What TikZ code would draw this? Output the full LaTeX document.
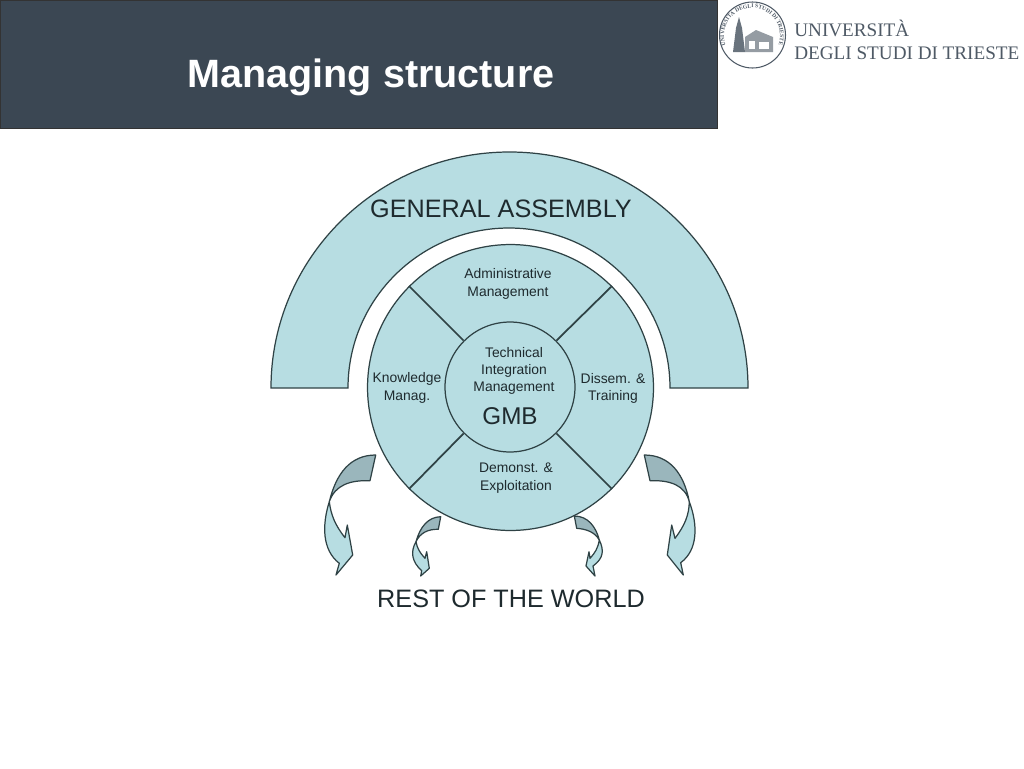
\documentclass[tikz,border=0pt]{standalone}
\usepackage{fontspec}
\usepackage{xcolor}
\usepackage{tikz}
\usetikzlibrary{decorations.text}
\setmainfont{Liberation Sans}
\newfontfamily\logofont{Liberation Serif}
\definecolor{headbg}{HTML}{3B4753}
\definecolor{paleblue}{HTML}{B7DDE2}
\definecolor{duskblue}{HTML}{9AB6BC}
\definecolor{inkline}{HTML}{2F4245}
\definecolor{inktext}{HTML}{1E2A2E}
\definecolor{logoink}{HTML}{4F5A66}
\newcommand{\fs}[2]{\fontsize{#1}{#2}\selectfont}
\tikzset{
  ring/.style={circle,draw=inkline,fill=paleblue,line width=0.7pt,inner sep=0pt},
  spoke/.style={draw=inkline,line width=1pt},
  upperarrow/.style={draw=inkline,fill=duskblue,line width=0.7pt,line join=round},
  lowerarrow/.style={draw=inkline,fill=paleblue,line width=0.7pt,line join=round},
  smalltext/.style={inner sep=0pt,align=center,text=inktext,font=\fs{7.9}{9.9}},
  bigtext/.style={inner sep=0pt,text=inktext,font=\fs{14.35}{16}},
  logotext/.style={inner sep=0pt,anchor=west,text=logoink,font=\logofont\fs{10.9}{12}},
}
\begin{document}
\begin{tikzpicture}[x=0.02cm,y=0.02cm]
\useasboundingbox (0,0) rectangle (1024,-768);
\fill [white] (0,0) rectangle (1024,-768);
% header
\draw [fill=headbg,draw=black!80,line width=0.5pt] (0,0) rectangle (717,-128);
\node (title) at (371,-77) [inner sep=0pt,text=white,font=\bfseries\fs{22.5}{24}] {Managing structure};
% logo
\node (seal) at (752.5,-35) [circle,draw=logoink,line width=0.6pt,minimum size=1.32cm,inner sep=0pt] {};
\fill [logoink!85] (733,-52) -- (736,-28) -- (739,-17) -- (742,-28) -- (745,-52) -- cycle;
\fill [logoink!60] (745,-52) -- (745,-37) -- (756,-30) -- (773,-37) -- (773,-52) -- cycle;
\fill [white] (749,-49) rectangle (755,-41);
\fill [white] (759,-49) rectangle (769,-42);
\path [decorate,decoration={text along path,text align=center,
  text={|\logofont\bfseries\fs{3.2}{4}\color{logoink}|UNIVERSITA DEGLI STUDI DI TRIESTE}}]
  (731.3,-54.5) arc (222:-42:28);
\node (uni) at (794,-28) [logotext] {UNIVERSITÀ};
\node (ts) [logotext] at (794,-53) {DEGLI STUDI DI TRIESTE};
% general assembly arch
\draw [draw=inkline,fill=paleblue,line width=0.7pt] (271,-388) arc [start angle=180,end angle=0,x radius=238.5,y radius=236] -- (670,-388)
  arc [start angle=0,end angle=180,x radius=161,y radius=160] -- cycle;
\node (assembly) at (501,-209) [bigtext] {GENERAL ASSEMBLY};
% management disc
\node (disc) at (510.5,-387.5) [ring,minimum size=5.72cm] {};
\node (core) at (510,-387) [ring,minimum size=2.6cm] {};
\foreach \a in {45,135,225,315}
  \draw [spoke] (disc.\a) -- (core.\a);
\node (admin) at (508,-284) [smalltext] {Administrative\\Management};
\node (know) at (407,-388) [smalltext] {Knowledge\\Manag.};
\node (tech) at (514,-371) [smalltext] {Technical\\Integration\\Management};
\node (gmb) at (510,-416.5) [inner sep=0pt,text=inktext,font=\fs{13.8}{15}] {GMB};
\node (diss) at (613,-388.5) [smalltext] {Dissem. \&\\Training};
\node (demo) at (516,-478) [smalltext] {Demonst. \&\\Exploitation};
% arrows out of the disc, outer pair
\draw [lowerarrow] (329.3,-501.7) .. controls (322,-525) and (322,-550) .. (339.3,-563.3) -- (336,-575) -- (352.7,-555) -- (347.3,-525) -- (345,-537.7) .. controls (335,-525) and (331,-515) .. cycle;
\draw [upperarrow] (329.3,-501.7) .. controls (336,-474) and (350,-455) .. (375.7,-455) -- (370,-480.7) .. controls (350,-480) and (335,-485) .. cycle;
\draw [lowerarrow] (689.3,-501.7) .. controls (698,-525) and (698,-550) .. (680.7,-562.7) -- (683.3,-575) -- (667.3,-555) -- (671.7,-525) -- (675,-538.3) .. controls (685,-525) and (689,-515) .. cycle;
\draw [upperarrow] (689.3,-501.7) .. controls (684,-474) and (670,-455) .. (644.3,-455) -- (650,-480.7) .. controls (670,-480) and (685,-485) .. cycle;
% arrows out of the disc, inner pair
\draw [lowerarrow] (416,-541.7) .. controls (410,-552) and (412,-562) .. (421.7,-570.7) -- (420.7,-576) -- (429.3,-568.3) -- (426.7,-551.7) -- (425,-558.3) .. controls (420,-553) and (417,-548) .. cycle;
\draw [upperarrow] (416,-541.7) .. controls (420,-527) and (428,-517) .. (440.7,-516.7) -- (438.3,-529.3) .. controls (428,-529) and (420,-533) .. cycle;
\draw [lowerarrow] (599.3,-540) .. controls (604,-550) and (604,-558) .. (593,-566) -- (595,-576) -- (586,-566) -- (589,-551.7) -- (590,-558.3) .. controls (595,-553) and (598,-548) .. cycle;
\draw [upperarrow] (599.3,-540) .. controls (596,-527) and (588,-516) .. (574.3,-516) -- (576.7,-528.3) .. controls (586,-529) and (595,-532) .. cycle;
\node (world) at (511,-599) [bigtext] {REST OF THE WORLD};
\end{tikzpicture}
\end{document}
